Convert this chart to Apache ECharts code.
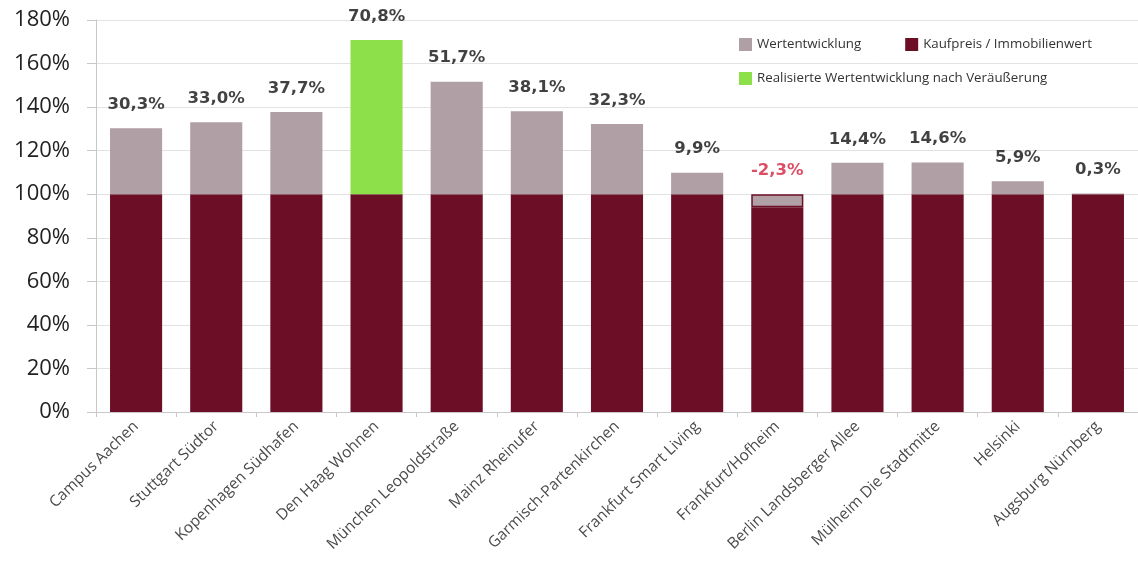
<!DOCTYPE html>
<html><head><meta charset="utf-8">
<script src="https://cdn.jsdelivr.net/npm/echarts@6/dist/echarts.min.js"></script>
<style>html,body{margin:0;padding:0;background:#fff}#c{width:1138px;height:567px}</style>
</head><body><div id="c"></div>
<script>
const categories = ["Campus Aachen","Stuttgart Südtor","Kopenhagen Südhafen","Den Haag Wohnen","München Leopoldstraße","Mainz Rheinufer","Garmisch-Partenkirchen","Frankfurt Smart Living","Frankfurt/Hofheim","Berlin Landsberger Allee","Mülheim Die Stadtmitte","Helsinki","Augsburg Nürnberg"];
const kaufpreis = [100,100,100,100,100,100,100,100,94,100,100,100,100];
const wertentwicklung = [30.3,33.0,37.7,null,51.7,38.1,32.3,9.9,6,14.4,14.6,5.9,0.3];
const realisiert = [null,null,null,70.8,null,null,null,null,null,null,null,null,null];
const valueLabels = ["30,3%","33,0%","37,7%","70,8%","51,7%","38,1%","32,3%","9,9%","-2,3%","14,4%","14,6%","5,9%","0,3%"];
const yTicks = [0,20,40,60,80,100,120,140,160,180];

const MAROON = '#6c0f26', GREY = '#b09fa4', GREEN = '#8ee04b';
const totals = categories.map((c,i)=> (kaufpreis[i]||0)+(wertentwicklung[i]||0)+(realisiert[i]||0));
const chart = echarts.init(document.getElementById('c'));
chart.setOption({
  animation:false,
  grid:{left:96, top:20, width:1052, height:392, containLabel:false},
  legend:[
    {data:['Wertentwicklung','Kaufpreis / Immobilienwert'], left:734, top:33, icon:'rect', itemWidth:13, itemHeight:13, itemGap:44,
     textStyle:{fontFamily:'Open Sans', fontSize:13.3, color:'#333'}},
    {data:['Realisierte Wertentwicklung nach Veräußerung'], left:734, top:67, icon:'rect', itemWidth:13, itemHeight:13,
     textStyle:{fontFamily:'Open Sans', fontSize:13.3, color:'#333'}}
  ],
  xAxis:{type:'category', data:categories,
    axisLine:{lineStyle:{color:'#c8c8c8'}},
    axisTick:{show:true, length:5, lineStyle:{color:'#c8c8c8'}},
    axisLabel:{rotate:44, interval:0, fontFamily:'Open Sans', fontSize:15.5, color:'#4a4a4a', margin:12}},
  yAxis:{type:'value', min:0, max:180, interval:20,
    axisLine:{show:true, lineStyle:{color:'#c8c8c8'}},
    axisTick:{show:true, length:9, lineStyle:{color:'#c8c8c8'}},
    splitLine:{lineStyle:{color:'#e2e2e2'}},
    axisLabel:{formatter:v=>v+'%', fontFamily:'Open Sans', fontSize:22, color:'#222', margin:26}},
  series:[
    {name:'Kaufpreis / Immobilienwert', type:'bar', stack:'s', barWidth:'65%', data:kaufpreis, itemStyle:{color:MAROON}},
    {name:'Wertentwicklung', type:'bar', stack:'s', barWidth:'65%',
     data:wertentwicklung.map((v,i)=>({value:v, itemStyle: kaufpreis[i]<100 ? {color:GREY, borderColor:MAROON, borderWidth:1.5} : {color:GREY}})),
     itemStyle:{color:GREY}},
    {name:'Realisierte Wertentwicklung nach Veräußerung', type:'bar', stack:'s', barWidth:'65%', data:realisiert, itemStyle:{color:GREEN}},
    {name:'labels', type:'scatter', symbolSize:0, silent:true, data:totals.map((t,i)=>({value:t, label:{color: valueLabels[i].startsWith('-') ? '#d4213d' : '#111'}})),
     label:{show:true, position:'top', distance:15, formatter:p=>valueLabels[p.dataIndex], fontFamily:'DejaVu Sans', fontWeight:'bold', fontSize:16.5}}
  ]
});
</script></body></html>
